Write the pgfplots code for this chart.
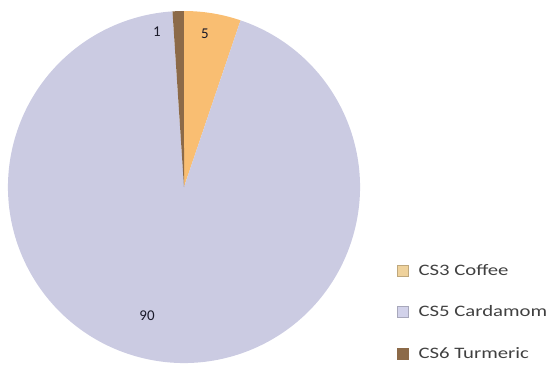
\documentclass[border=0pt]{standalone}
\usepackage{pgfplots}
\usepackage{pgfplotstable}
\pgfplotsset{compat=1.18}
\usepackage{fontspec}
\setmainfont{Carlito}
\newfontfamily\legfont[FakeStretch=1.3]{Carlito}
\definecolor{coffee}{HTML}{F9BE72}
\definecolor{cardamom}{HTML}{CBCBE2}
\definecolor{turmeric}{HTML}{8C6A48}
\definecolor{coffeeleg}{HTML}{EFD29C}
\definecolor{cardleg}{HTML}{D2D2EA}
\definecolor{lbl}{HTML}{1A1A2A}
\definecolor{legtext}{HTML}{404040}

\pgfplotstableread{
name value
Coffee 5
Cardamom 90
Turmeric 1
}\piedata

\begin{document}
\begin{tikzpicture}
\pgfplotstablegetelem{0}{value}\of\piedata \let\va\pgfplotsretval
\pgfplotstablegetelem{1}{value}\of\piedata \let\vb\pgfplotsretval
\pgfplotstablegetelem{2}{value}\of\piedata \let\vc\pgfplotsretval
\pgfmathsetmacro\tot{\va+\vb+\vc}
\pgfmathsetmacro\aA{90-\va/\tot*360}
\pgfmathsetmacro\aB{\aA-\vb/\tot*360}
\pgfmathsetmacro\aC{\aB-\vc/\tot*360}
\begin{axis}[
  name=ax,
  x=1bp, y=1bp,
  xmin=0, xmax=552, ymin=0, ymax=374,
  hide axis, clip=false,
  legend cell align=left,
  legend style={draw=none, fill=none, at={(axis cs:397,112)}, anchor=north west,
    font=\legfont\fontsize{16}{17}\selectfont, text=legtext, row sep=25bp, inner sep=0pt,
    nodes={inner sep=2bp}},
  legend image code/.code={\fill[#1] (0bp,-5.5bp) rectangle (11bp,5.5bp);},
]
\addlegendimage{fill=coffeeleg, draw=coffeeleg!80!black}
\addlegendentry{\hspace{8bp}CS3 Coffee}
\addlegendimage{fill=cardleg, draw=cardleg!80!black}
\addlegendentry{\hspace{8bp}CS5 Cardamom}
\addlegendimage{fill=turmeric, draw=turmeric}
\addlegendentry{\hspace{8bp}CS6 Turmeric}

\fill[coffee] (axis cs:184,187) -- +(90:176bp) arc[start angle=90, end angle=\aA, radius=176bp] -- cycle;
\fill[cardamom] (axis cs:184,187) -- +(\aA:176bp) arc[start angle=\aA, end angle=\aB, radius=176bp] -- cycle;
\fill[turmeric] (axis cs:184,187) -- +(\aB:176bp) arc[start angle=\aB, end angle=\aC, radius=176bp] -- cycle;

\node[text=lbl, font=\fontsize{15}{16}\selectfont] at (axis cs:205,340) {5};
\node[text=lbl, font=\fontsize{15}{16}\selectfont] at (axis cs:157,342) {1};
\node[text=lbl, font=\fontsize{15}{16}\selectfont] at (axis cs:147,58) {90};
\end{axis}
\pgfresetboundingbox
\path[use as bounding box] (ax.south west) rectangle (ax.north east);
\end{tikzpicture}
\end{document}
